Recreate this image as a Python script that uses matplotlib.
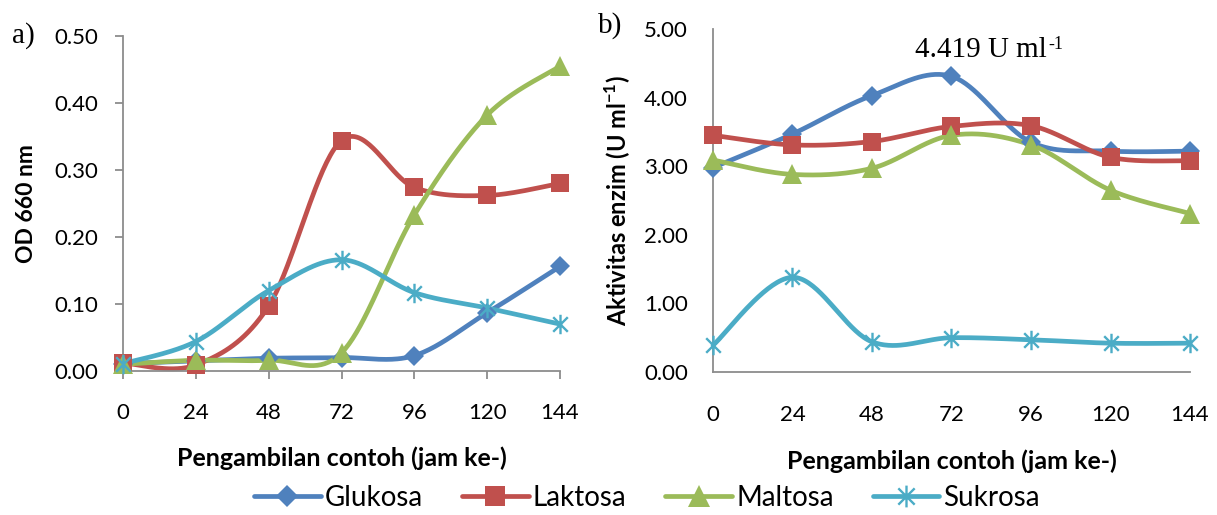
import numpy as np
import matplotlib
matplotlib.use("Agg")
import matplotlib.pyplot as plt
from matplotlib.path import Path
from matplotlib.lines import Line2D

# ---------------- data ----------------
hours = [0, 24, 48, 72, 96, 120, 144]
series_names = ["Glukosa", "Laktosa", "Maltosa", "Sukrosa"]

od_glukosa = [0.011, 0.015, 0.019, 0.020, 0.023, 0.087, 0.156]
od_laktosa = [0.012, 0.009, 0.097, 0.344, 0.274, 0.262, 0.280]
od_maltosa = [0.010, 0.016, 0.016, 0.027, 0.233, 0.382, 0.455]
od_sukrosa = [0.011, 0.044, 0.120, 0.166, 0.117, 0.094, 0.070]

akt_glukosa = [2.98, 3.47, 4.03, 4.31, 3.35, 3.22, 3.22]
akt_laktosa = [3.45, 3.31, 3.36, 3.58, 3.59, 3.13, 3.08]
akt_maltosa = [3.09, 2.88, 2.97, 3.45, 3.31, 2.65, 2.31]
akt_sukrosa = [0.39, 1.38, 0.44, 0.50, 0.47, 0.42, 0.42]

yticks_a = [0.0, 0.1, 0.2, 0.3, 0.4, 0.5]
yticks_b = [0.0, 1.0, 2.0, 3.0, 4.0, 5.0]

colors = ["#4F81BD", "#C0504D", "#9BBB59", "#4BACC6"]
axis_color = "#8C8C8C"

# asterisk marker (x + vertical bar), like Excel's star marker
star = Path([(0, -1), (0, 1), (-0.75, -0.75), (0.75, 0.75), (-0.75, 0.75), (0.75, -0.75)],
            [Path.MOVETO, Path.LINETO, Path.MOVETO, Path.LINETO, Path.MOVETO, Path.LINETO])

markers = [dict(marker="D", ms=10),
           dict(marker="s", ms=13),
           dict(marker="^", ms=14),
           dict(marker=star, ms=14, mew=1.7, mfc="none")]


def smooth(x, y, n=40):
    """Excel-like smoothed line: cubic Bezier through points, Catmull-Rom tangents."""
    x = np.asarray(x, float)
    y = np.asarray(y, float)
    P = np.column_stack([x, y])
    out = []
    for i in range(len(P) - 1):
        p0 = P[i - 1] if i > 0 else P[i]
        p1 = P[i]
        p2 = P[i + 1]
        p3 = P[i + 2] if i + 2 < len(P) else P[i + 1]
        c1 = p1 + (p2 - p0) / 6.0
        c2 = p2 - (p3 - p1) / 6.0
        t = np.linspace(0, 1, n)[:, None]
        seg = ((1 - t) ** 3) * p1 + 3 * ((1 - t) ** 2) * t * c1 + 3 * (1 - t) * t ** 2 * c2 + t ** 3 * p2
        out.append(seg if i == 0 else seg[1:])
    out = np.vstack(out)
    return out[:, 0], out[:, 1]


plt.rcParams["font.family"] = ["Lato", "DejaVu Sans"]
plt.rcParams["mathtext.fontset"] = "custom"
plt.rcParams["mathtext.bf"] = "Lato:bold"
plt.rcParams["mathtext.rm"] = "Lato"

fig = plt.figure(figsize=(12.17, 5.15), dpi=100)
W, H = 1217, 515
ax_a = fig.add_axes([123 / W, 1 - 371 / H, (560 - 123) / W, (371 - 36) / H])
ax_b = fig.add_axes([713 / W, 1 - 372 / H, (1190 - 713) / W, (372 - 29) / H])

data_a = [od_glukosa, od_laktosa, od_maltosa, od_sukrosa]
data_b = [akt_glukosa, akt_laktosa, akt_maltosa, akt_sukrosa]
LW = 3.4

for ax, data in ((ax_a, data_a), (ax_b, data_b)):
    for vals, c, mk in zip(data, colors, markers):
        sx, sy = smooth(hours, vals)
        ax.plot(sx, sy, color=c, lw=LW, solid_capstyle="round", clip_on=False, zorder=2)
        kw = dict(mk)
        mfc = kw.pop("mfc", c)
        mew = kw.pop("mew", 0)
        ax.plot(hours, vals, ls="none", color=c, mfc=mfc, mec=c, mew=mew,
                clip_on=False, zorder=3, **kw)
    ax.set_xlim(0, 144)
    ax.set_xticks(hours)
    ax.set_xticklabels([str(h) for h in hours])
    for s in ("top", "right"):
        ax.spines[s].set_visible(False)
    for s in ("left", "bottom"):
        ax.spines[s].set_color(axis_color)
        ax.spines[s].set_linewidth(1.3)
    ax.set_xlabel("Pengambilan contoh (jam ke-)", fontsize=18, fontweight="bold", labelpad=17)

ax_a.set_ylim(0, 0.5)
ax_a.set_yticks(yticks_a)
ax_a.set_yticklabels([f"{v:.2f}" for v in yticks_a])
ax_a.tick_params(axis="both", colors=axis_color, labelcolor="black", labelsize=16,
                 length=6, width=1.3, direction="out")
ax_a.tick_params(axis="x", pad=17)
ax_a.tick_params(axis="y", pad=12)
ax_a.set_ylabel("OD 660 nm", fontsize=16.5, fontweight="bold", labelpad=12)

ax_b.set_ylim(0, 5)
ax_b.set_yticks(yticks_b)
ax_b.set_yticklabels([f"{v:.2f}" for v in yticks_b])
ax_b.tick_params(axis="both", colors=axis_color, labelcolor="black", labelsize=16,
                 length=0, width=0)
ax_b.tick_params(axis="x", pad=24)
ax_b.tick_params(axis="y", pad=18)
ax_b.set_ylabel("Aktivitas enzim (U ml$^{\\mathbf{-1}}$)", fontsize=17, fontweight="bold", labelpad=8)

serif = ["Liberation Serif", "DejaVu Serif"]
fig.text(12 / W, 1 - 43 / H, "a)", family=serif, fontsize=21, va="baseline")
fig.text(598 / W, 1 - 33 / H, "b)", family=serif, fontsize=21, va="baseline")
t_main = fig.text(915 / W, 1 - 57 / H, "4.419 U ml", family=serif, fontsize=21, va="baseline")
ax_b.annotate("-1", xy=(1.0, 1.0), xycoords=t_main, xytext=(1, 1), textcoords="offset points",
              family=serif, fontsize=13, va="top", ha="left")

handles = []
for name, c, mk in zip(series_names, colors, markers):
    kw = dict(mk)
    mfc = kw.pop("mfc", c)
    mew = kw.pop("mew", 0)
    kw["ms"] = kw["ms"] * 1.12
    handles.append(Line2D([], [], color=c, lw=LW, mfc=mfc, mec=c, mew=mew,
                          solid_capstyle="round", **kw))
fig.legend(handles, series_names, loc="center", bbox_to_anchor=(647 / W, 1 - 498 / H),
           ncol=4, frameon=False, fontsize=20, handlelength=2.4, handletextpad=0.15,
           columnspacing=1.4, borderpad=0, borderaxespad=0)

fig.savefig("out.png", dpi=100)
